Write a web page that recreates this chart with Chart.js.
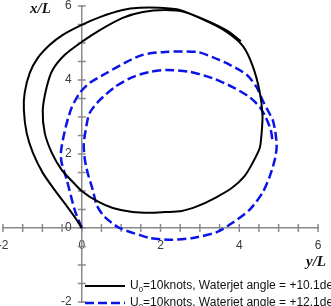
<!DOCTYPE html>
<html>
<head>
<meta charset="utf-8">
<script src="https://cdn.jsdelivr.net/npm/chart.js@4.4.0/dist/chart.umd.min.js"></script>
<style>
  html, body { margin: 0; padding: 0; background: #fff; overflow: hidden; }
  #wrap { width: 331px; height: 306px; }
</style>
</head>
<body>
<div id="wrap"><canvas id="turn-chart" width="331" height="306"></canvas></div>
<script>
// Axis ranges / ticks
const axisMin = -2;
const axisMax = 6;
const tickStep = 0.5;
const labelStep = 2;

// Series labels
const seriesLabels = [
    'U0=10knots, Waterjet angle = +10.1deg',
    'U0=10knots, Waterjet angle = +12.1deg'
];

// Run 1 (+10.1 deg): y/L (horizontal) and x/L (vertical)
const run1YL = [0, -0.13, -0.38, -0.69, -0.99, -1.24, -1.40, -1.47, -1.45, -1.32,
    -1.12, -0.81, -0.48, 0, 0.46, 1.04, 1.47, 1.98, 2.49, 3.17,
    3.68, 4.09, 4.34, 4.52, 4.59, 4.57, 4.52, 4.34, 4.14, 3.81,
    3.38, 2.94, 2.54, 2.11, 1.73, 1.29, 0.79, 0.38, 0, -0.25,
    -0.51, -0.76, -0.94, -0.99, -0.89, -0.74, -0.43, 0, 0.46, 1.04,
    1.55, 2.11, 2.61, 3.25, 3.71, 4.04];
const run1XL = [0, 0.22, 0.59, 1.03, 1.49, 2.03, 2.57, 3.19, 3.65, 4.19,
    4.59, 4.95, 5.22, 5.49, 5.70, 5.89, 5.95, 5.95, 5.89, 5.59,
    5.30, 4.92, 4.38, 3.68, 3.05, 2.59, 2.16, 1.76, 1.41, 1.08,
    0.81, 0.59, 0.46, 0.43, 0.41, 0.43, 0.54, 0.73, 1.0, 1.27,
    1.57, 2.03, 2.57, 3.19, 3.81, 4.27, 4.68, 5.03, 5.35, 5.68,
    5.84, 5.89, 5.84, 5.57, 5.32, 5.05];

// Run 2 (+12.1 deg)
const run2YL = [0, -0.18, -0.38, -0.51, -0.53, -0.48, -0.38, -0.25, -0.05, 0.20,
    0.63, 1.14, 1.55, 2.11, 2.92, 3.32, 3.76, 4.19, 4.44, 4.59,
    4.72, 4.85, 4.92, 4.95, 4.90, 4.77, 4.59, 4.26, 3.83, 3.43,
    2.82, 2.23, 1.73, 1.47, 0.96, 0.58, 0.38, 0.28, 0.15, 0.08,
    0.05, 0.10, 0.20, 0.46, 0.84, 1.29, 1.73, 2.16, 2.74, 3.32,
    3.83, 4.26, 4.52, 4.67, 4.80, 4.85];
const run2XL = [0, 0.49, 1.30, 1.76, 2.03, 2.38, 2.84, 3.27, 3.65, 3.92,
    4.19, 4.49, 4.68, 4.76, 4.76, 4.62, 4.41, 4.14, 3.81, 3.46,
    3.19, 2.92, 2.57, 2.19, 1.84, 1.38, 0.95, 0.49, 0.14, -0.11,
    -0.27, -0.32, -0.27, -0.19, 0.0, 0.30, 0.62, 1.03, 1.49, 1.84,
    2.24, 2.65, 3.11, 3.46, 3.81, 4.08, 4.22, 4.27, 4.22, 4.05,
    3.81, 3.54, 3.27, 3.00, 2.65, 2.32];

const axisColor = '#8a8a8a';
const labelColor = '#3a3a3a';
const sansFont = "'Liberation Sans', Arial, sans-serif";
const serifFont = "'Liberation Serif', 'Times New Roman', serif";

function toPoints(ys, xs) {
    return ys.map((v, i) => ({ x: v, y: xs[i] }));
}

// Tick marks crossing the axes (both sides) + the y tick labels
const crossTicks = {
    id: 'crossTicks',
    beforeDatasetsDraw(chart) {
        const { ctx, scales: { x, y } } = chart;
        const x0 = x.getPixelForValue(0);
        const y0 = y.getPixelForValue(0);
        ctx.save();
        ctx.strokeStyle = axisColor;
        ctx.lineWidth = 1.5;
        ctx.beginPath();
        x.ticks.forEach(t => {
            const px = x.getPixelForValue(t.value);
            ctx.moveTo(px, y0 - 4);
            ctx.lineTo(px, y0 + 4);
        });
        y.ticks.forEach(t => {
            const py = y.getPixelForValue(t.value);
            ctx.moveTo(x0 - 4, py);
            ctx.lineTo(x0 + 4, py);
        });
        ctx.stroke();

        // y labels sit left of the axis line
        ctx.fillStyle = labelColor;
        ctx.font = `12px ${sansFont}`;
        ctx.textAlign = 'right';
        ctx.textBaseline = 'middle';
        y.ticks.forEach(t => {
            if (!t.label) return;
            ctx.fillText(t.label, x0 - 10, y.getPixelForValue(t.value));
        });
        ctx.restore();
    }
};

// Axis titles and the legend inside the plot
const annotations = {
    id: 'annotations',
    afterDraw(chart) {
        const { ctx } = chart;
        ctx.save();
        ctx.fillStyle = '#111';
        ctx.font = `italic bold 15px ${serifFont}`;
        ctx.textBaseline = 'top';
        ctx.textAlign = 'left';
        ctx.fillText('x/L', 30, 2);
        ctx.fillText('y/L', 306, 255);

        const rows = [{ y: 286 }, { y: 303 }];
        chart.data.datasets.forEach((ds, i) => {
            const ly = rows[i].y;
            ctx.strokeStyle = ds.borderColor;
            ctx.lineWidth = ds.borderWidth;
            ctx.setLineDash(ds.borderDash || []);
            ctx.beginPath();
            ctx.moveTo(85, ly);
            ctx.lineTo(125, ly);
            ctx.stroke();
            ctx.setLineDash([]);

            // "U" with subscript 0, then the rest of the label
            const rest = ds.label.slice(2);
            ctx.fillStyle = '#111';
            ctx.textBaseline = 'middle';
            ctx.font = `12px ${sansFont}`;
            let tx = 130;
            ctx.fillText('U', tx, ly);
            tx += ctx.measureText('U').width;
            ctx.font = `8px ${sansFont}`;
            ctx.fillText('0', tx, ly + 4);
            tx += ctx.measureText('0').width;
            ctx.font = `12px ${sansFont}`;
            ctx.fillText(rest, tx, ly);
        });
        ctx.restore();
    }
};

function zeroFit(scale) {
    if (scale.isHorizontal()) scale.height = 0; else scale.width = 0;
    scale.paddingLeft = 0;
    scale.paddingRight = 0;
    scale.paddingTop = 0;
    scale.paddingBottom = 0;
}

const tickLabel = v => (Math.abs(v % labelStep) < 1e-9 ? String(v) : '');

const ctx = document.getElementById('turn-chart').getContext('2d');
const chart = new Chart(ctx, {
    type: 'scatter',
    data: {
        datasets: [{
            label: seriesLabels[0],
            data: toPoints(run1YL, run1XL),
            showLine: true,
            borderColor: '#000000',
            borderWidth: 2,
            pointRadius: 0,
            tension: 0.25
        }, {
            label: seriesLabels[1],
            data: toPoints(run2YL, run2XL),
            showLine: true,
            borderColor: '#0a14e6',
            borderWidth: 2.5,
            borderDash: [9, 4],
            pointRadius: 0,
            tension: 0.25
        }]
    },
    options: {
        responsive: false,
        animation: false,
        devicePixelRatio: 1,
        layout: {
            autoPadding: false,
            padding: { left: 3, right: 13, top: 6, bottom: 4 }
        },
        plugins: {
            legend: { display: false },
            tooltip: { enabled: false }
        },
        scales: {
            x: {
                type: 'linear',
                position: { y: 0 },
                min: axisMin,
                max: axisMax,
                afterFit: zeroFit,
                grid: { drawOnChartArea: false, drawTicks: false },
                border: { display: true, color: axisColor, width: 1.5 },
                ticks: {
                    stepSize: tickStep,
                    autoSkip: false,
                    maxRotation: 0,
                    padding: 10,
                    color: labelColor,
                    font: { family: sansFont, size: 12 },
                    callback: tickLabel
                }
            },
            y: {
                type: 'linear',
                position: { x: 0 },
                min: axisMin,
                max: axisMax,
                afterFit: zeroFit,
                grid: { drawOnChartArea: false, drawTicks: false },
                border: { display: true, color: axisColor, width: 1.5 },
                ticks: {
                    stepSize: tickStep,
                    autoSkip: false,
                    display: false,
                    callback: tickLabel
                }
            }
        }
    },
    plugins: [crossTicks, annotations]
});
</script>
</body>
</html>
